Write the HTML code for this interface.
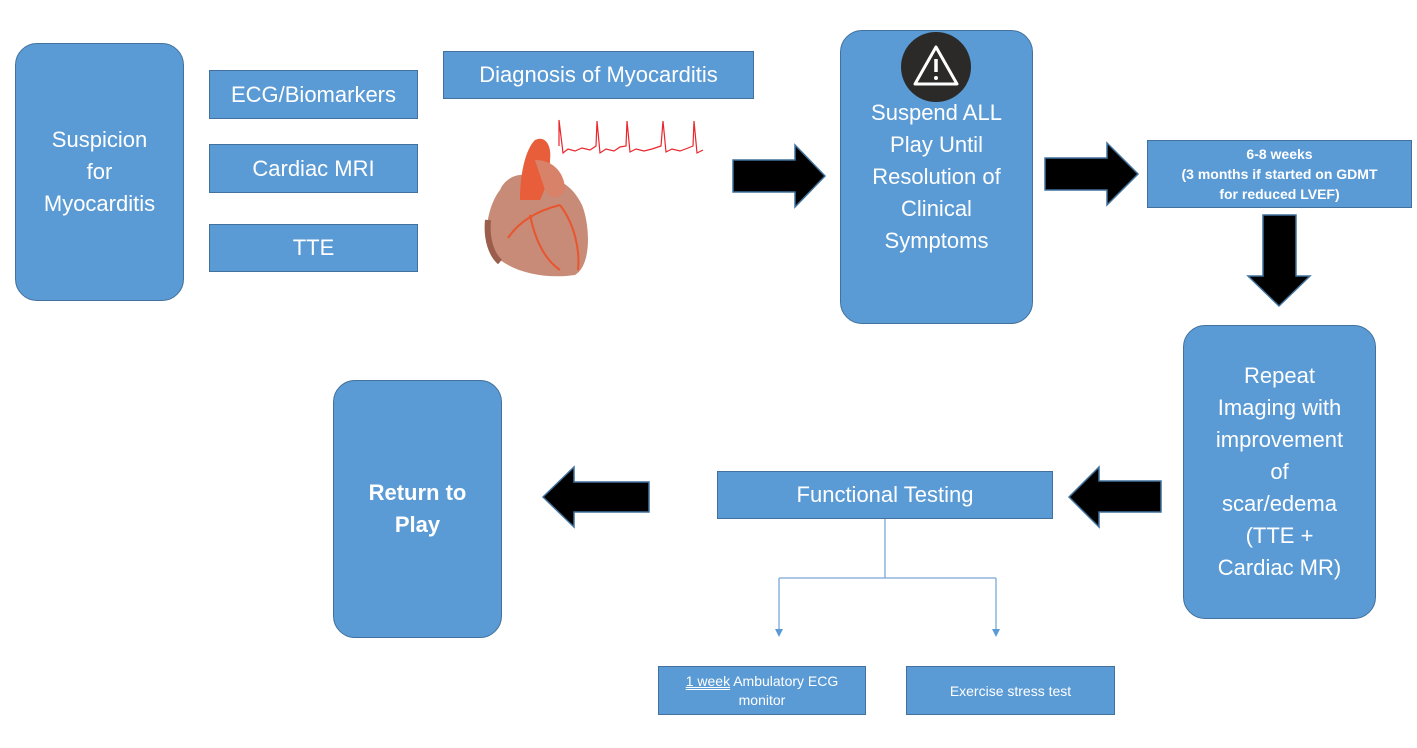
<!DOCTYPE html>
<html><head><meta charset="utf-8"><style>
html,body{margin:0;padding:0;background:#fff;width:1417px;height:748px;overflow:hidden;position:relative;font-family:"Liberation Sans",sans-serif}
.b{position:absolute;background:#5b9bd5;border:1.5px solid #41719c;box-sizing:border-box;color:#fff;display:flex;align-items:center;justify-content:center;text-align:center}
.r{border-radius:22px}
.t22{font-size:22px;line-height:32px}
svg{position:absolute;left:0;top:0}
</style></head><body>
<div class="b r t22" style="left:15px;top:43px;width:169px;height:258px">Suspicion<br>for<br>Myocarditis</div>
<div class="b t22" style="left:209px;top:70px;width:209px;height:49px">ECG/Biomarkers</div>
<div class="b t22" style="left:209px;top:144px;width:209px;height:49px">Cardiac MRI</div>
<div class="b t22" style="left:209px;top:224px;width:209px;height:48px">TTE</div>
<div class="b t22" style="left:443px;top:51px;width:311px;height:48px">Diagnosis of Myocarditis</div>
<div class="b r t22" style="left:840px;top:30px;width:193px;height:294px;align-items:flex-start;padding-top:66px">Suspend ALL<br>Play Until<br>Resolution of<br>Clinical<br>Symptoms</div>
<div class="b" style="left:1147px;top:140px;width:265px;height:68px;font-size:14px;font-weight:bold;line-height:20px">6-8 weeks<br>(3 months if started on GDMT<br>for reduced LVEF)</div>
<div class="b r t22" style="left:1183px;top:325px;width:193px;height:294px">Repeat<br>Imaging with<br>improvement<br>of<br>scar/edema<br>(TTE +<br>Cardiac MR)</div>
<div class="b t22" style="left:717px;top:471px;width:336px;height:48px">Functional Testing</div>
<div class="b r t22" style="left:333px;top:380px;width:169px;height:258px;font-weight:bold">Return to<br>Play</div>
<div class="b" style="left:658px;top:666px;width:208px;height:49px;font-size:14px;line-height:19px">
<span><span style="text-decoration:underline double">1 week</span> Ambulatory ECG<br>monitor</span></div>
<div class="b" style="left:906px;top:666px;width:209px;height:49px;font-size:14px">Exercise stress test</div>
<svg width="1417" height="748">
<g fill="#000" stroke="#41719c" stroke-width="1.5">
<polygon points="733,160 795,160 795,145 825,176 795,207 795,192 733,192"/>
<polygon points="1045,158 1107,158 1107,143 1138,174 1107,205 1107,190 1045,190"/>
<polygon points="1263,215 1296,215 1296,276 1310,276 1279,306 1248,276 1263,276"/>
<polygon points="1161,481 1099,481 1099,467 1069,497 1099,527 1099,512 1161,512"/>
<polygon points="649,482 574,482 574,467 543,497 574,527 574,512 649,512"/>
</g>
<g stroke="#7aa7d8" stroke-width="1.3" fill="none">
<path d="M885,519 V578 M779,578 H996 M779,578 V630 M996,578 V630"/>
</g>
<polygon points="775,629 783,629 779,637" fill="#5b9bd5"/>
<polygon points="992,629 1000,629 996,637" fill="#5b9bd5"/>
<circle cx="936" cy="67" r="35" fill="#2b2a29"/>
<path d="M936,47 L957,84 L915,84 Z" fill="none" stroke="#fff" stroke-width="3" stroke-linejoin="round"/>
<path d="M936,59 V72" stroke="#fff" stroke-width="3.5"/>
<circle cx="936" cy="78" r="2" fill="#fff"/>
<polyline fill="none" stroke="#e8262b" stroke-width="1.2" points="559,146 559,120 563,153 568,149 575,151 582,148 590,150 596,146 597,121 600,153 606,149 614,151 620,147 626,146 627,121 630,152 636,149 644,151 652,149 661,146 663,121 666,152 672,149 680,151 688,148 693,146 694,121 697,153 703,150"/>
<g>
<path d="M500,190 C488,205 483,235 490,250 C505,270 540,280 575,275 C592,265 590,225 582,205 C570,180 550,175 535,178 C520,170 505,178 500,190Z" fill="#c88b78"/>
<path d="M520,200 C520,175 525,150 535,140 C545,135 552,145 550,160 C550,175 545,190 540,200Z" fill="#e85d3a"/>
<path d="M535,160 C555,160 565,175 565,190 C560,200 550,200 545,190Z" fill="#d9826a"/>
<path d="M508,238 C520,220 540,210 560,205 M530,215 C535,240 545,260 560,270 M560,205 C575,225 580,250 578,270" stroke="#e8552f" stroke-width="2" fill="none"/>
<path d="M488,220 C486,240 492,255 500,262" stroke="#9b5e4c" stroke-width="6" fill="none"/>
</g>
</svg>
</body></html>
